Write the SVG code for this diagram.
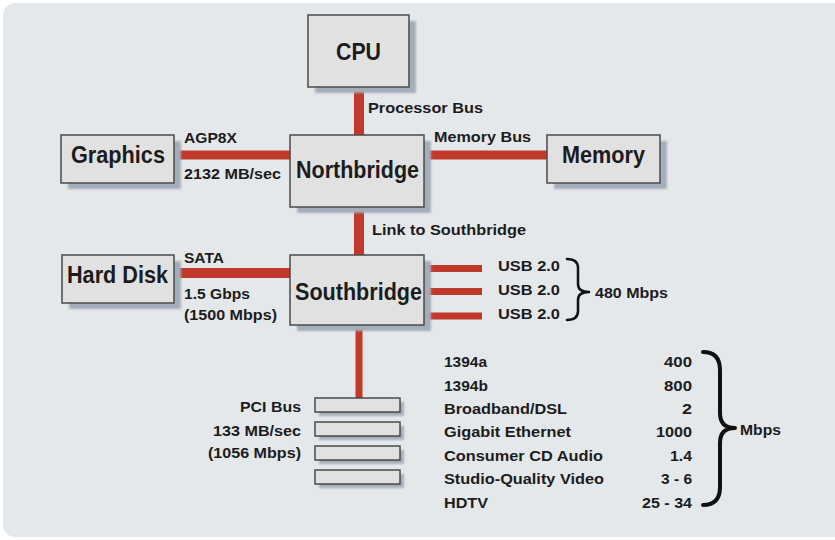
<svg xmlns="http://www.w3.org/2000/svg" width="835" height="540" viewBox="0 0 835 540">
<defs>
<filter id="soft" x="-10%" y="-10%" width="120%" height="130%"><feGaussianBlur stdDeviation="1.2"/></filter>
<style>
.bg{fill:#e5e8eb}
.box{fill:#e1e1e1;stroke:#4a4a4a;stroke-width:1.5}
.sh{fill:#a4aeba;filter:url(#soft)}
.bus{stroke:#c0392b;fill:none}
.big{font-family:"Liberation Sans",Arial,sans-serif;font-weight:bold;font-size:23px;fill:#1c1c1c}
.lbl{font-family:"Liberation Sans",Arial,sans-serif;font-weight:bold;font-size:15.5px;fill:#1c1c1c}
.brace{fill:none;stroke:#111;stroke-linecap:round;stroke-linejoin:round}
</style>
</defs>
<rect width="835" height="540" fill="#ffffff"/>
<rect class="bg" x="3" y="3" width="845" height="534" rx="12"/>

<g id="connectors">
<line class="bus" x1="359" y1="87" x2="359" y2="135" stroke-width="10"/>
<line class="bus" x1="359" y1="207" x2="359" y2="255" stroke-width="10"/>
<line class="bus" x1="174" y1="155" x2="290" y2="155" stroke-width="9"/>
<line class="bus" x1="424" y1="155" x2="547" y2="155" stroke-width="9"/>
<line class="bus" x1="174" y1="273" x2="290" y2="273" stroke-width="10"/>
<line class="bus" x1="425" y1="268.5" x2="482" y2="268.5" stroke-width="7"/>
<line class="bus" x1="425" y1="291.5" x2="482" y2="291.5" stroke-width="7"/>
<line class="bus" x1="425" y1="316" x2="482" y2="316" stroke-width="7"/>
<line class="bus" x1="359" y1="325" x2="359" y2="398" stroke-width="7"/>
<text class="lbl" x="368" y="113" textLength="115" lengthAdjust="spacingAndGlyphs">Processor Bus</text>
<text class="lbl" x="434" y="142" textLength="97" lengthAdjust="spacingAndGlyphs">Memory Bus</text>
<text class="lbl" x="372" y="235" textLength="154" lengthAdjust="spacingAndGlyphs">Link to Southbridge</text>
<text class="lbl" x="184" y="143" textLength="53" lengthAdjust="spacingAndGlyphs">AGP8X</text>
<text class="lbl" x="184" y="179" textLength="97" lengthAdjust="spacingAndGlyphs">2132 MB/sec</text>
<text class="lbl" x="184" y="263" textLength="40" lengthAdjust="spacingAndGlyphs">SATA</text>
<text class="lbl" x="184" y="299" textLength="66" lengthAdjust="spacingAndGlyphs">1.5 Gbps</text>
<text class="lbl" x="184" y="320" textLength="93" lengthAdjust="spacingAndGlyphs">(1500 Mbps)</text>
<text class="lbl" x="498" y="271" textLength="62" lengthAdjust="spacingAndGlyphs">USB 2.0</text>
<text class="lbl" x="498" y="295" textLength="62" lengthAdjust="spacingAndGlyphs">USB 2.0</text>
<text class="lbl" x="498" y="319" textLength="62" lengthAdjust="spacingAndGlyphs">USB 2.0</text>
<path class="brace" stroke-width="2.5" d="M567,259 Q578,259 578,268 L578,284 Q578,292 589,292 Q578,292 578,300 L578,311 Q578,320 567,320"/>
<text class="lbl" x="595" y="298" textLength="73" lengthAdjust="spacingAndGlyphs">480 Mbps</text>
<text class="lbl" x="240" y="412" textLength="61" lengthAdjust="spacingAndGlyphs">PCI Bus</text>
<text class="lbl" x="213" y="436" textLength="88" lengthAdjust="spacingAndGlyphs">133 MB/sec</text>
<text class="lbl" x="208" y="458" textLength="93" lengthAdjust="spacingAndGlyphs">(1056 Mbps)</text>
</g>

<g id="cpu">
<rect class="sh" x="315" y="21" width="101" height="72"/>
<rect class="box" x="308" y="15" width="101" height="72"/>
<text class="big" x="336" y="60" textLength="45" lengthAdjust="spacingAndGlyphs">CPU</text>
</g>
<g id="northbridge">
<rect class="sh" x="297" y="141" width="134" height="72"/>
<rect class="box" x="290" y="135" width="134" height="72"/>
<text class="big" x="296" y="178" textLength="123" lengthAdjust="spacingAndGlyphs">Northbridge</text>
</g>
<g id="graphics">
<rect class="sh" x="68" y="141" width="113" height="48"/>
<rect class="box" x="61" y="135" width="113" height="48"/>
<text class="big" x="71" y="163" textLength="94" lengthAdjust="spacingAndGlyphs">Graphics</text>
</g>
<g id="memory">
<rect class="sh" x="554" y="141" width="113" height="48"/>
<rect class="box" x="547" y="135" width="113" height="48"/>
<text class="big" x="562" y="163" textLength="83" lengthAdjust="spacingAndGlyphs">Memory</text>
</g>
<g id="southbridge">
<rect class="sh" x="297" y="261" width="134" height="70"/>
<rect class="box" x="290" y="255" width="134" height="70"/>
<text class="big" x="295" y="300" textLength="127" lengthAdjust="spacingAndGlyphs">Southbridge</text>
</g>
<g id="harddisk">
<rect class="sh" x="69" y="261" width="112" height="48"/>
<rect class="box" x="62" y="255" width="112" height="48"/>
<text class="big" x="67" y="283" textLength="101" lengthAdjust="spacingAndGlyphs">Hard Disk</text>
</g>
<g id="pci-slots">
<rect class="sh" x="319" y="402" width="85" height="14"/>
<rect class="box" x="315" y="398" width="85" height="14"/>
<rect class="sh" x="319" y="426" width="85" height="14"/>
<rect class="box" x="315" y="422" width="85" height="14"/>
<rect class="sh" x="319" y="450" width="85" height="14"/>
<rect class="box" x="315" y="446" width="85" height="14"/>
<rect class="sh" x="319" y="474" width="85" height="14"/>
<rect class="box" x="315" y="470" width="85" height="14"/>
</g>
<g id="speed-table">
<text class="lbl" x="444" y="367">1394a</text>
<text class="lbl" x="444" y="391">1394b</text>
<text class="lbl" x="444" y="414" textLength="123" lengthAdjust="spacingAndGlyphs">Broadband/DSL</text>
<text class="lbl" x="444" y="437" textLength="127" lengthAdjust="spacingAndGlyphs">Gigabit Ethernet</text>
<text class="lbl" x="444" y="461" textLength="159" lengthAdjust="spacingAndGlyphs">Consumer CD Audio</text>
<text class="lbl" x="444" y="484" textLength="160" lengthAdjust="spacingAndGlyphs">Studio-Quality Video</text>
<text class="lbl" x="444" y="508" textLength="44" lengthAdjust="spacingAndGlyphs">HDTV</text>
<text class="lbl" x="664" y="367" textLength="28" lengthAdjust="spacingAndGlyphs">400</text>
<text class="lbl" x="664" y="391" textLength="28" lengthAdjust="spacingAndGlyphs">800</text>
<text class="lbl" x="682" y="414" textLength="10" lengthAdjust="spacingAndGlyphs">2</text>
<text class="lbl" x="656" y="437" textLength="36" lengthAdjust="spacingAndGlyphs">1000</text>
<text class="lbl" x="670" y="461" textLength="22" lengthAdjust="spacingAndGlyphs">1.4</text>
<text class="lbl" x="692" y="484" text-anchor="end">3 - 6</text>
<text class="lbl" x="642" y="508" textLength="50" lengthAdjust="spacingAndGlyphs">25 - 34</text>
<path class="brace" stroke-width="4" d="M703,352 Q720,352 720,370 L720,413 Q720,428 735,428 Q720,428 720,443 L720,487 Q720,505 703,505"/>
<text class="lbl" x="740" y="435" textLength="41" lengthAdjust="spacingAndGlyphs">Mbps</text>
</g>
</svg>
